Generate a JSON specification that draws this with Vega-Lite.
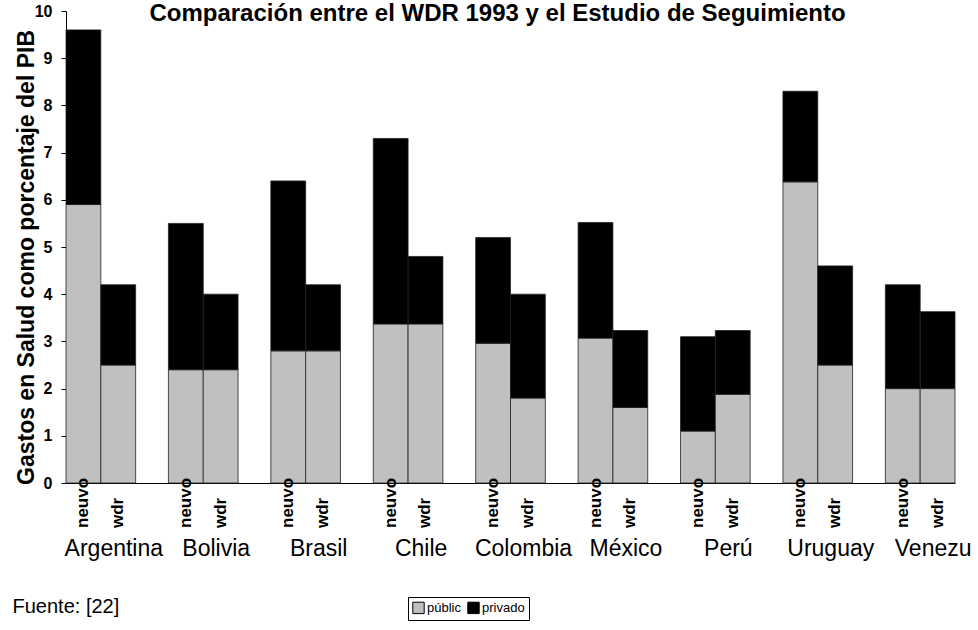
{
  "$schema": "https://vega.github.io/schema/vega-lite/v6.json",
  "width": 889,
  "height": 472,
  "autosize": {"type": "none"},
  "padding": {"left": 66, "top": 11, "right": 23, "bottom": 147},
  "background": "white",
  "config": {"font": "Liberation Sans", "view": {"stroke": null}},
  "title": {
    "text": "Comparación entre el WDR 1993 y el Estudio de Seguimiento",
    "fontSize": 24,
    "fontWeight": "bold",
    "color": "#000",
    "anchor": "middle",
    "frame": "group",
    "baseline": "alphabetic",
    "offset": -42,
    "dx": -13
  },
  "data": {
    "values": [
      {"pais": "Argentina", "serie": "neuvo", "componente": "públic", "valor": 5.9},
      {"pais": "Argentina", "serie": "neuvo", "componente": "privado", "valor": 3.7},
      {"pais": "Argentina", "serie": "wdr", "componente": "públic", "valor": 2.5},
      {"pais": "Argentina", "serie": "wdr", "componente": "privado", "valor": 1.7},
      {"pais": "Bolivia", "serie": "neuvo", "componente": "públic", "valor": 2.4},
      {"pais": "Bolivia", "serie": "neuvo", "componente": "privado", "valor": 3.1},
      {"pais": "Bolivia", "serie": "wdr", "componente": "públic", "valor": 2.4},
      {"pais": "Bolivia", "serie": "wdr", "componente": "privado", "valor": 1.6},
      {"pais": "Brasil", "serie": "neuvo", "componente": "públic", "valor": 2.8},
      {"pais": "Brasil", "serie": "neuvo", "componente": "privado", "valor": 3.6},
      {"pais": "Brasil", "serie": "wdr", "componente": "públic", "valor": 2.8},
      {"pais": "Brasil", "serie": "wdr", "componente": "privado", "valor": 1.4},
      {"pais": "Chile", "serie": "neuvo", "componente": "públic", "valor": 3.37},
      {"pais": "Chile", "serie": "neuvo", "componente": "privado", "valor": 3.93},
      {"pais": "Chile", "serie": "wdr", "componente": "públic", "valor": 3.37},
      {"pais": "Chile", "serie": "wdr", "componente": "privado", "valor": 1.43},
      {"pais": "Colombia", "serie": "neuvo", "componente": "públic", "valor": 2.96},
      {"pais": "Colombia", "serie": "neuvo", "componente": "privado", "valor": 2.24},
      {"pais": "Colombia", "serie": "wdr", "componente": "públic", "valor": 1.8},
      {"pais": "Colombia", "serie": "wdr", "componente": "privado", "valor": 2.2},
      {"pais": "México", "serie": "neuvo", "componente": "públic", "valor": 3.07},
      {"pais": "México", "serie": "neuvo", "componente": "privado", "valor": 2.45},
      {"pais": "México", "serie": "wdr", "componente": "públic", "valor": 1.6},
      {"pais": "México", "serie": "wdr", "componente": "privado", "valor": 1.63},
      {"pais": "Perú", "serie": "neuvo", "componente": "públic", "valor": 1.1},
      {"pais": "Perú", "serie": "neuvo", "componente": "privado", "valor": 2.0},
      {"pais": "Perú", "serie": "wdr", "componente": "públic", "valor": 1.88},
      {"pais": "Perú", "serie": "wdr", "componente": "privado", "valor": 1.35},
      {"pais": "Uruguay", "serie": "neuvo", "componente": "públic", "valor": 6.38},
      {"pais": "Uruguay", "serie": "neuvo", "componente": "privado", "valor": 1.92},
      {"pais": "Uruguay", "serie": "wdr", "componente": "públic", "valor": 2.5},
      {"pais": "Uruguay", "serie": "wdr", "componente": "privado", "valor": 2.1},
      {"pais": "Venezuela", "serie": "neuvo", "componente": "públic", "valor": 2.0},
      {"pais": "Venezuela", "serie": "neuvo", "componente": "privado", "valor": 2.2},
      {"pais": "Venezuela", "serie": "wdr", "componente": "públic", "valor": 2.0},
      {"pais": "Venezuela", "serie": "wdr", "componente": "privado", "valor": 1.63}
    ]
  },
  "layer": [
    {
      "mark": {"type": "bar", "stroke": "#222", "strokeWidth": 0.8},
      "encoding": {
        "x": {
          "field": "pais",
          "type": "nominal",
          "sort": null,
          "scale": {"paddingInner": 0.32, "paddingOuter": 0},
          "axis": {
            "title": "Fuente: [22]",
            "titleFontSize": 20,
            "titleFontWeight": "normal",
            "titleColor": "#000",
            "titleAnchor": "start",
            "titleAlign": "left",
            "titleBaseline": "alphabetic",
            "titleX": -54,
            "titleY": 129,
            "labelAngle": 0,
            "labelFontSize": 23,
            "labelColor": "#000",
            "labelPadding": 54,
            "labelOffset": 13,
            "labelOverlap": false,
            "labelBound": false,
            "labelFlush": false,
            "labelLimit": 0,
            "labelExpr": "datum.label == 'Venezuela' ? 'Venezu' : datum.label",
            "ticks": false,
            "domainColor": "#000",
            "domainWidth": 1
          }
        },
        "xOffset": {
          "field": "serie",
          "type": "nominal",
          "sort": ["neuvo", "wdr"],
          "scale": {"paddingInner": 0, "paddingOuter": 0}
        },
        "y": {
          "field": "valor",
          "type": "quantitative",
          "stack": "zero",
          "scale": {"domain": [0, 10], "nice": false},
          "axis": {
            "title": "Gastos en Salud como porcentaje del PIB",
            "values": [0, 1, 2, 3, 4, 5, 6, 7, 8, 9, 10],
            "grid": false,
            "tickSize": 5,
            "tickColor": "#000",
            "domainColor": "#000",
            "labelFontSize": 16,
            "labelFontWeight": "bold",
            "labelColor": "#000",
            "labelPadding": 9,
            "titleFontSize": 23,
            "titleFontWeight": "bold",
            "titleColor": "#000",
            "titleX": -33,
            "titleY": 246,
            "titleAngle": 270,
            "titleAlign": "center",
            "titleBaseline": "alphabetic"
          }
        },
        "color": {
          "field": "componente",
          "type": "nominal",
          "scale": {"domain": ["públic", "privado"], "range": ["#c0c0c0", "#000000"]},
          "legend": {
            "title": null,
            "orient": "none",
            "legendX": 342,
            "legendY": 586,
            "direction": "horizontal",
            "strokeColor": "#000",
            "padding": 4,
            "symbolType": "square",
            "symbolSize": 130,
            "symbolStrokeColor": "#000",
            "symbolStrokeWidth": 1,
            "labelFontSize": 13,
            "labelColor": "#000",
            "labelOffset": 2,
            "columnPadding": 4
          }
        },
        "order": {"field": "componente", "sort": "descending"}
      }
    },
    {
      "transform": [{"filter": "datum.componente == 'públic'"}],
      "mark": {
        "type": "text",
        "angle": 270,
        "align": "left",
        "baseline": "middle",
        "dx": -45,
        "fontSize": 17,
        "fontWeight": "bold",
        "color": "#000"
      },
      "encoding": {
        "x": {"field": "pais", "type": "nominal", "sort": null},
        "xOffset": {"field": "serie", "type": "nominal", "sort": ["neuvo", "wdr"]},
        "y": {"datum": 0},
        "text": {"field": "serie"}
      }
    }
  ]
}
